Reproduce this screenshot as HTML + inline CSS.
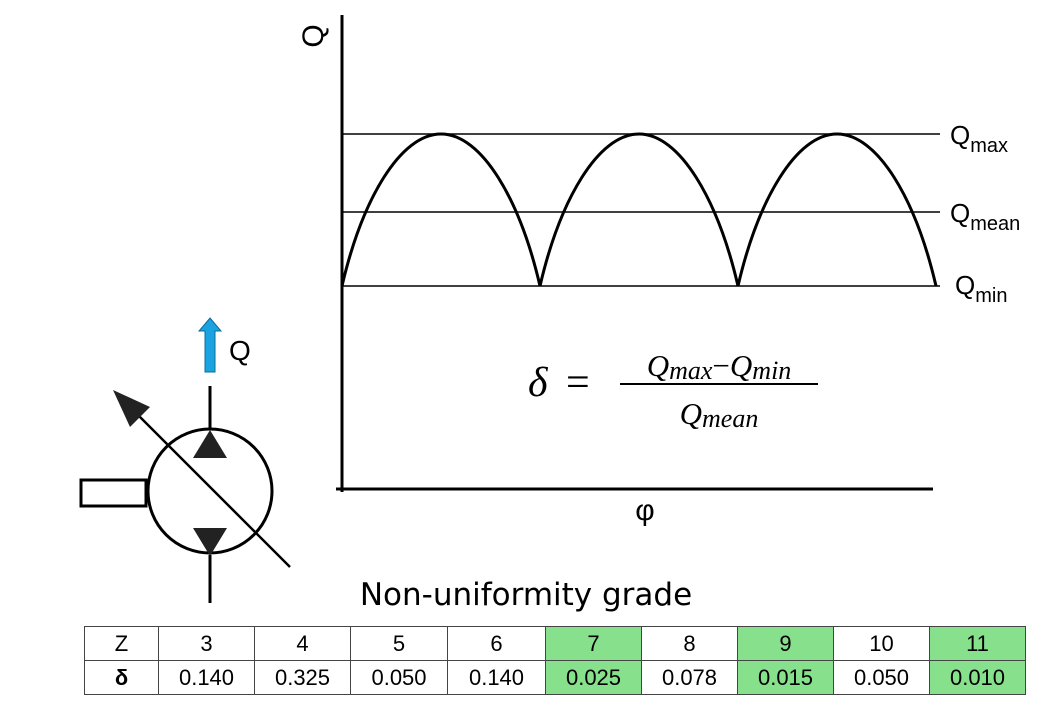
<!DOCTYPE html>
<html><head><meta charset="utf-8"><style>
html,body{margin:0;padding:0;background:#fff;}
body{width:1057px;height:705px;position:relative;overflow:hidden;font-family:"Liberation Sans",sans-serif;}
table{position:absolute;left:84px;top:626px;border-collapse:collapse;font-size:22px;}
td{border:1px solid #444;text-align:center;height:33px;padding:0;}
.g{background:#86e08c;}
</style></head><body>
<svg width="1057" height="705" style="position:absolute;left:0;top:0">
<line x1="342" y1="15" x2="342" y2="492" stroke="#000" stroke-width="3"/>
<line x1="336" y1="489" x2="933" y2="489" stroke="#000" stroke-width="3"/>
<text x="0" y="0" font-size="30" transform="translate(323,36) rotate(-90)" text-anchor="middle" font-family="Liberation Sans">Q</text>
<line x1="342" y1="134" x2="940" y2="134" stroke="#000" stroke-width="1.5"/>
<line x1="342" y1="212" x2="940" y2="212" stroke="#000" stroke-width="1.5"/>
<line x1="342" y1="286" x2="940" y2="286" stroke="#000" stroke-width="1.5"/>
<path d="M342,286 C362,200 400,134 441,134 C482,134 520,200 540,286 C560,200 598,134 639,134 C680,134 718,200 738,286 C758,200 796,134 837,134 C878,134 916,200 936,286" fill="none" stroke="#000" stroke-width="3"/>
<text x="950" y="144" font-size="26">Q<tspan font-size="20" dy="8">max</tspan></text>
<text x="950" y="222" font-size="26">Q<tspan font-size="20" dy="8">mean</tspan></text>
<text x="955" y="294" font-size="26">Q<tspan font-size="20" dy="8">min</tspan></text>
<text x="645" y="520" font-size="30" text-anchor="middle">φ</text>
<text x="528" y="396" font-size="42" font-family="Liberation Serif" font-style="italic">δ</text>
<text x="566" y="396" font-size="42" font-family="Liberation Serif">=</text>
<text x="719" y="376" font-size="31" font-family="Liberation Serif" font-style="italic" text-anchor="middle">Q<tspan font-size="26" dy="3">max</tspan><tspan dy="-3" font-style="normal">−</tspan>Q<tspan font-size="26" dy="3">min</tspan></text>
<line x1="620" y1="384" x2="818" y2="384" stroke="#000" stroke-width="2"/>
<text x="719" y="424" font-size="31" font-family="Liberation Serif" font-style="italic" text-anchor="middle">Q<tspan font-size="26" dy="3">mean</tspan></text>
<text x="526" y="605" font-size="31" text-anchor="middle" font-family="DejaVu Sans">Non-uniformity grade</text>
<circle cx="210" cy="491" r="62" fill="none" stroke="#000" stroke-width="3"/>
<rect x="81" y="480" width="65" height="26" fill="none" stroke="#000" stroke-width="3"/>
<line x1="210" y1="386" x2="210" y2="430" stroke="#000" stroke-width="3"/>
<line x1="210" y1="555" x2="210" y2="603" stroke="#000" stroke-width="3"/>
<polygon points="210,430 193,458 227,458" fill="#222"/>
<polygon points="193,528 227,528 210,556" fill="#222"/>
<line x1="290" y1="567" x2="135" y2="412" stroke="#000" stroke-width="2.5"/>
<polygon points="113,390 150,407 130,427" fill="#222"/>
<polygon points="210,318 221,331 215,331 215,372 205,372 205,331 199,331" fill="#1aa3e0" stroke="#0a6d9a" stroke-width="1"/>
<text x="229" y="360" font-size="28">Q</text>
</svg>
<table>
<tr><td style="width:73px">Z</td><td style="width:95px">3</td><td style="width:95px">4</td><td style="width:96px">5</td><td style="width:97px">6</td><td class="g" style="width:95px">7</td><td style="width:95px">8</td><td class="g" style="width:95px">9</td><td style="width:95px">10</td><td class="g" style="width:95px">11</td></tr>
<tr><td style="font-weight:bold">δ</td><td>0.140</td><td>0.325</td><td>0.050</td><td>0.140</td><td class="g">0.025</td><td>0.078</td><td class="g">0.015</td><td>0.050</td><td class="g">0.010</td></tr>
</table>
</body></html>
